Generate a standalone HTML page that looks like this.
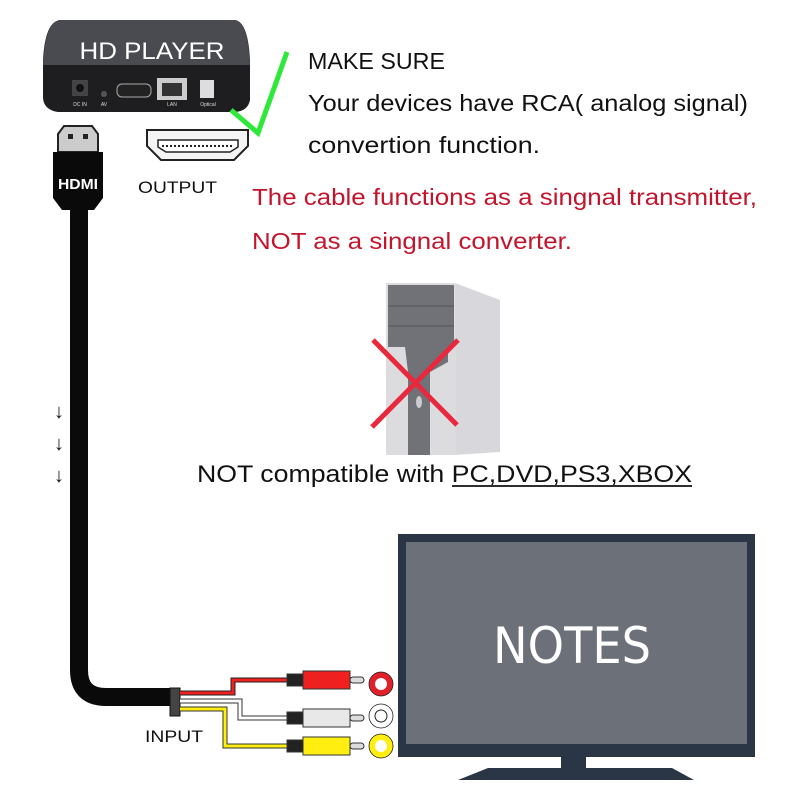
<!DOCTYPE html>
<html><head><meta charset="utf-8"><style>body{margin:0;background:#fff}svg{display:block}</style></head>
<body>
<svg width="800" height="800" viewBox="0 0 800 800" xmlns="http://www.w3.org/2000/svg" font-family="Liberation Sans, sans-serif">
<rect width="800" height="800" fill="#fff"/>
<path d="M60 20 L235 20 Q248 22 250 60 L250 100 Q248 111 235 112 L58 112 Q44 110 43 98 L43 60 Q45 22 60 20Z" fill="#1e1e20"/>
<path d="M60 20 L235 20 Q248 22 250 65 L43 65 Q45 22 60 20Z" fill="#4a4b50"/>
<text x="152" y="59" font-size="24" fill="#fff" text-anchor="middle" textLength="145" lengthAdjust="spacingAndGlyphs">HD PLAYER</text>
<rect x="72" y="80" width="16" height="16" fill="#444"/><circle cx="80" cy="88" r="4" fill="#111"/>
<circle cx="104" cy="94" r="3" fill="#555"/>
<rect x="117" y="84" width="34" height="13" rx="5" fill="#222" stroke="#aaa"/>
<rect x="157" y="78" width="30" height="22" fill="#ccc"/><rect x="162" y="83" width="20" height="13" fill="#333"/>
<rect x="200" y="80" width="14" height="18" fill="#ddd"/>
<text x="80" y="106" font-size="5" fill="#ddd" text-anchor="middle">DC IN</text>
<text x="104" y="106" font-size="5" fill="#ddd" text-anchor="middle">AV</text>
<text x="172" y="106" font-size="5" fill="#ddd" text-anchor="middle">LAN</text>
<text x="208" y="106" font-size="5" fill="#ddd" text-anchor="middle">Optical</text>
<polyline points="231,110 258,133 287,52" fill="none" stroke="#2ee83a" stroke-width="5"/>
<path d="M147 130 L248 130 L248 146 L234 160 L161 160 L147 146Z" fill="#f4f4f4" stroke="#222" stroke-width="2"/>
<path d="M158 140 L238 140 L238 147 L230 152 L166 152 L158 147Z" fill="#fff" stroke="#222" stroke-width="1.5"/>
<line x1="162" y1="146" x2="234" y2="146" stroke="#222" stroke-width="2" stroke-dasharray="2 2"/>
<text x="138" y="193" font-size="17" fill="#111" textLength="79" lengthAdjust="spacingAndGlyphs">OUTPUT</text>
<path d="M58 134 L64 126 L92 126 L98 134 L98 152 L58 152Z" fill="#ccc" stroke="#222" stroke-width="2"/>
<rect x="68" y="134" width="5" height="5" fill="#222"/><rect x="83" y="134" width="5" height="5" fill="#222"/>
<path d="M53 152 L103 152 L103 198 L94 210 L62 210 L53 198Z" fill="#0a0a0a"/>
<text x="78" y="189" font-size="15" font-weight="bold" fill="#fff" text-anchor="middle" textLength="40" lengthAdjust="spacingAndGlyphs">HDMI</text>
<path d="M79 205 L79 670 Q79 697 106 697 L180 697" fill="none" stroke="#0a0a0a" stroke-width="18"/>
<rect x="170" y="688" width="10" height="28" fill="#444" stroke="#111"/>
<text x="54" y="418" font-size="20" fill="#111">↓</text>
<text x="54" y="450" font-size="20" fill="#111">↓</text>
<text x="54" y="482" font-size="20" fill="#111">↓</text>
<polyline points="180,693 233,693 233,680 290,680" fill="none" stroke="#222" stroke-width="5"/>
<polyline points="180,693 233,693 233,680 290,680" fill="none" stroke="#ee2020" stroke-width="3"/>
<polyline points="180,701 240,701 240,718 290,718" fill="none" stroke="#333" stroke-width="5"/>
<polyline points="180,701 240,701 240,718 290,718" fill="none" stroke="#fff" stroke-width="3"/>
<polyline points="180,709 225,709 225,746 290,746" fill="none" stroke="#333" stroke-width="5"/>
<polyline points="180,709 225,709 225,746 290,746" fill="none" stroke="#ffee10" stroke-width="3"/>
<g stroke="#333" stroke-width="1">
<rect x="287" y="674" width="16" height="12" fill="#222"/><rect x="303" y="671" width="47" height="18" fill="#ee2020"/><rect x="350" y="677" width="14" height="6" rx="3" fill="#ddd"/>
<rect x="287" y="712" width="16" height="12" fill="#222"/><rect x="303" y="709" width="47" height="18" fill="#e8e8e8"/><rect x="350" y="715" width="14" height="6" rx="3" fill="#ddd"/>
<rect x="287" y="740" width="16" height="12" fill="#222"/><rect x="303" y="737" width="47" height="18" fill="#ffee10"/><rect x="350" y="743" width="14" height="6" rx="3" fill="#ddd"/>
</g>
<circle cx="381" cy="684" r="9" fill="none" stroke="#e0202a" stroke-width="6"/><circle cx="381" cy="684" r="12" fill="none" stroke="#222" stroke-width="0.8"/>
<circle cx="381" cy="716" r="9" fill="none" stroke="#fff" stroke-width="6"/><circle cx="381" cy="716" r="12" fill="none" stroke="#222" stroke-width="0.8"/><circle cx="381" cy="716" r="6" fill="none" stroke="#222" stroke-width="1"/>
<circle cx="381" cy="746" r="9" fill="none" stroke="#ffee10" stroke-width="6"/><circle cx="381" cy="746" r="12" fill="none" stroke="#222" stroke-width="0.8"/>
<text x="145" y="742" font-size="17" fill="#111" textLength="58" lengthAdjust="spacingAndGlyphs">INPUT</text>
<text x="308" y="69" font-size="23" fill="#111" textLength="137" lengthAdjust="spacingAndGlyphs">MAKE SURE</text>
<text x="308" y="111" font-size="23" fill="#111" textLength="440" lengthAdjust="spacingAndGlyphs">Your devices have RCA( analog signal)</text>
<text x="308" y="153" font-size="23" fill="#111" textLength="232" lengthAdjust="spacingAndGlyphs">convertion function.</text>
<text x="252" y="205" font-size="23" fill="#c4142c" textLength="505" lengthAdjust="spacingAndGlyphs">The cable functions as a singnal transmitter,</text>
<text x="252" y="249" font-size="23" fill="#c4142c" textLength="320" lengthAdjust="spacingAndGlyphs">NOT as a singnal converter.</text>
<path d="M455 283 L500 300 L500 452 L455 455Z" fill="#d8d8dc"/>
<rect x="386" y="283" width="70" height="172" fill="#dcdcdf"/>
<rect x="388" y="285" width="66" height="62" fill="#707277"/>
<line x1="388" y1="306" x2="454" y2="306" stroke="#555"/><line x1="388" y1="326" x2="454" y2="326" stroke="#555"/>
<path d="M405 347 L448 347 L448 362 L430 372 L430 455 L408 455 L408 372 Z" fill="#707277"/>
<ellipse cx="419" cy="402" rx="3" ry="6" fill="#ccc"/>
<line x1="373" y1="340" x2="457" y2="425" stroke="#e8283c" stroke-width="5"/>
<line x1="458" y1="340" x2="372" y2="427" stroke="#e8283c" stroke-width="5"/>
<text x="197" y="482" font-size="24" fill="#111" textLength="495" lengthAdjust="spacingAndGlyphs">NOT compatible with PC,DVD,PS3,XBOX</text>
<line x1="452" y1="486" x2="692" y2="486" stroke="#111" stroke-width="1.8"/>
<rect x="398" y="534" width="357" height="223" fill="#2a3545"/>
<rect x="406" y="542" width="341" height="202" fill="#6c7079"/>
<text x="572" y="663" font-size="50" fill="#fff" text-anchor="middle" font-family="DejaVu Sans, sans-serif" textLength="158" lengthAdjust="spacingAndGlyphs">NOTES</text>
<rect x="561" y="756" width="25" height="14" fill="#2a3545"/>
<polygon points="458,780 488,768 672,768 694,780" fill="#2a3545"/>
</svg>
</body></html>
